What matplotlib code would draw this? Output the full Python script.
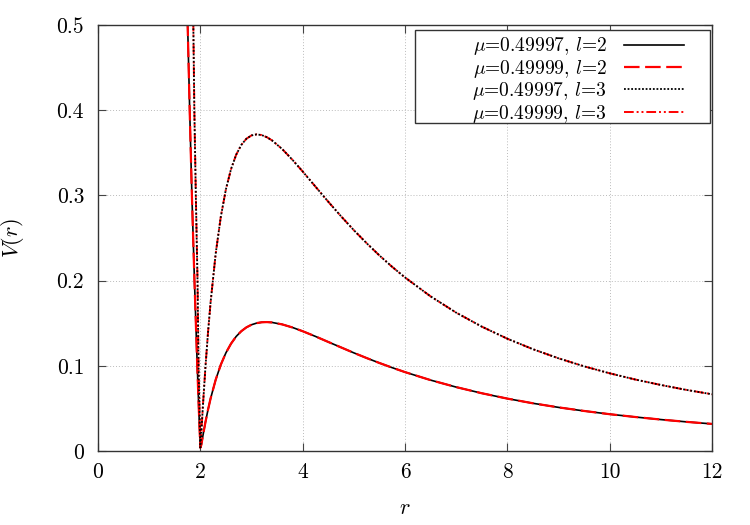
import matplotlib
matplotlib.use('Agg')
import matplotlib.pyplot as plt
from matplotlib.patches import Rectangle

# values
r_l2 = [1.74, 1.752, 1.792, 1.835, 1.885, 1.94, 1.97, 2.0, 2.02, 2.05, 2.1, 2.15, 2.2, 2.3, 2.4, 2.5,
        2.6, 2.7, 2.8, 2.9, 3.0, 3.1, 3.2, 3.3, 3.4, 3.6, 3.8, 4.0, 4.25, 4.5, 4.75, 5.0, 5.25, 5.5,
        5.75, 6.0, 6.5, 7.0, 7.5, 8.0, 8.5, 9.0, 9.5, 10.0, 10.5, 11.0, 11.5, 12.0]
v_l2 = [0.53, 0.5, 0.4, 0.3, 0.2, 0.1, 0.05, 0.004, 0.0074, 0.0178, 0.0339, 0.0484, 0.0615, 0.0836,
        0.1013, 0.1152, 0.1260, 0.1344, 0.1406, 0.1451, 0.1482, 0.1501, 0.1511, 0.1513, 0.1509,
        0.1486, 0.1450, 0.1406, 0.1345, 0.1280, 0.1216, 0.1152, 0.1091, 0.1033, 0.0978, 0.0926,
        0.0832, 0.0750, 0.0678, 0.0615, 0.0560, 0.0512, 0.0470, 0.0432, 0.0399, 0.0369, 0.0342,
        0.0318]

r_l3 = [1.855, 1.863, 1.883, 1.912, 1.945, 1.965, 1.99, 2.0, 2.02, 2.05, 2.1, 2.15, 2.2, 2.3, 2.4,
        2.5, 2.6, 2.7, 2.8, 2.9, 3.0, 3.1, 3.2, 3.3, 3.4, 3.6, 3.8, 4.0, 4.25, 4.5, 4.75, 5.0, 5.25,
        5.5, 5.75, 6.0, 6.5, 7.0, 7.5, 8.0, 8.5, 9.0, 9.5, 10.0, 10.5, 11.0, 11.5, 12.0]
v_l3 = [0.53, 0.5, 0.4, 0.3, 0.2, 0.1, 0.03, 0.004, 0.0219, 0.0527, 0.0987, 0.1390, 0.1742, 0.2316,
        0.2749, 0.3072, 0.3309, 0.3477, 0.3592, 0.3665, 0.3704, 0.3716, 0.3708, 0.3683, 0.3646,
        0.3544, 0.3418, 0.3281, 0.3103, 0.2926, 0.2755, 0.2592, 0.2439, 0.2295, 0.2161, 0.2037,
        0.1815, 0.1624, 0.1460, 0.1318, 0.1195, 0.1088, 0.0994, 0.0912, 0.0839, 0.0775, 0.0717,
        0.0666]

mus = ['0.49997', '0.49999']
xticks = [0, 2, 4, 6, 8, 10, 12]
xtick_labels = ['0', '2', '4', '6', '8', '10', '12']
yticks = [0, 0.1, 0.2, 0.3, 0.4, 0.5]
ytick_labels = ['0', '0.1', '0.2', '0.3', '0.4', '0.5']

plt.rcParams['font.family'] = 'cmr10'
plt.rcParams['mathtext.fontset'] = 'cm'
plt.rcParams['axes.unicode_minus'] = False

fig = plt.figure(figsize=(7.5, 5.25), dpi=100)
ax = fig.add_axes([98/750, 1-451/525, 614/750, 426/525])

ax.plot(r_l2, v_l2, color='black', lw=1.2, label=r'$\mu$=%s, $l$=2' % mus[0])
ax.plot(r_l2, v_l2, color='red', lw=1.6, dashes=(7, 2.5), label=r'$\mu$=%s, $l$=2' % mus[1])
ax.plot(r_l3, v_l3, color='black', lw=1.3, dashes=(1, 1), zorder=2.2,
        label=r'$\mu$=%s, $l$=3' % mus[0])
ax.plot(r_l3, v_l3, color='red', lw=1.4, dashes=(5, 1.5, 1, 1.5, 1, 1.5), zorder=2.1,
        label=r'$\mu$=%s, $l$=3' % mus[1])

ax.set_xlim(0, 12)
ax.set_ylim(0, 0.5)
ax.set_xticks(xticks, xtick_labels)
ax.set_yticks(yticks, ytick_labels)
ax.tick_params(direction='in', length=6, width=0.8, top=True, right=True, labelsize=15.5, color='#444444')
ax.tick_params(axis='x', pad=8)
ax.tick_params(axis='y', pad=10)
ax.grid(True, color='#bbbbbb', linestyle=(0, (1, 2)), linewidth=0.7)
for s in ax.spines.values():
    s.set_color('#333333')
    s.set_linewidth(1.0)

ax.set_xlabel('$r$', fontsize=16)
ax.set_ylabel('$V(r)$', fontsize=16)
ax.xaxis.set_label_coords(0.5, -0.112)
ax.yaxis.set_label_coords(-0.118, 0.5)

# legend box like gnuplot's key
box = Rectangle((0.516, 0.770), 0.4805, 0.218, transform=ax.transAxes, facecolor='white',
                edgecolor='#333333', linewidth=1.0, zorder=4)
ax.add_patch(box)
leg = ax.legend(loc='upper right', bbox_to_anchor=(0.974, 1.003), frameon=False, markerfirst=False,
                fontsize=14, handlelength=3.1, handletextpad=0.9, labelspacing=0.02, borderaxespad=0.2)
leg.set_zorder(5)

fig.savefig('out.png', dpi=100)
